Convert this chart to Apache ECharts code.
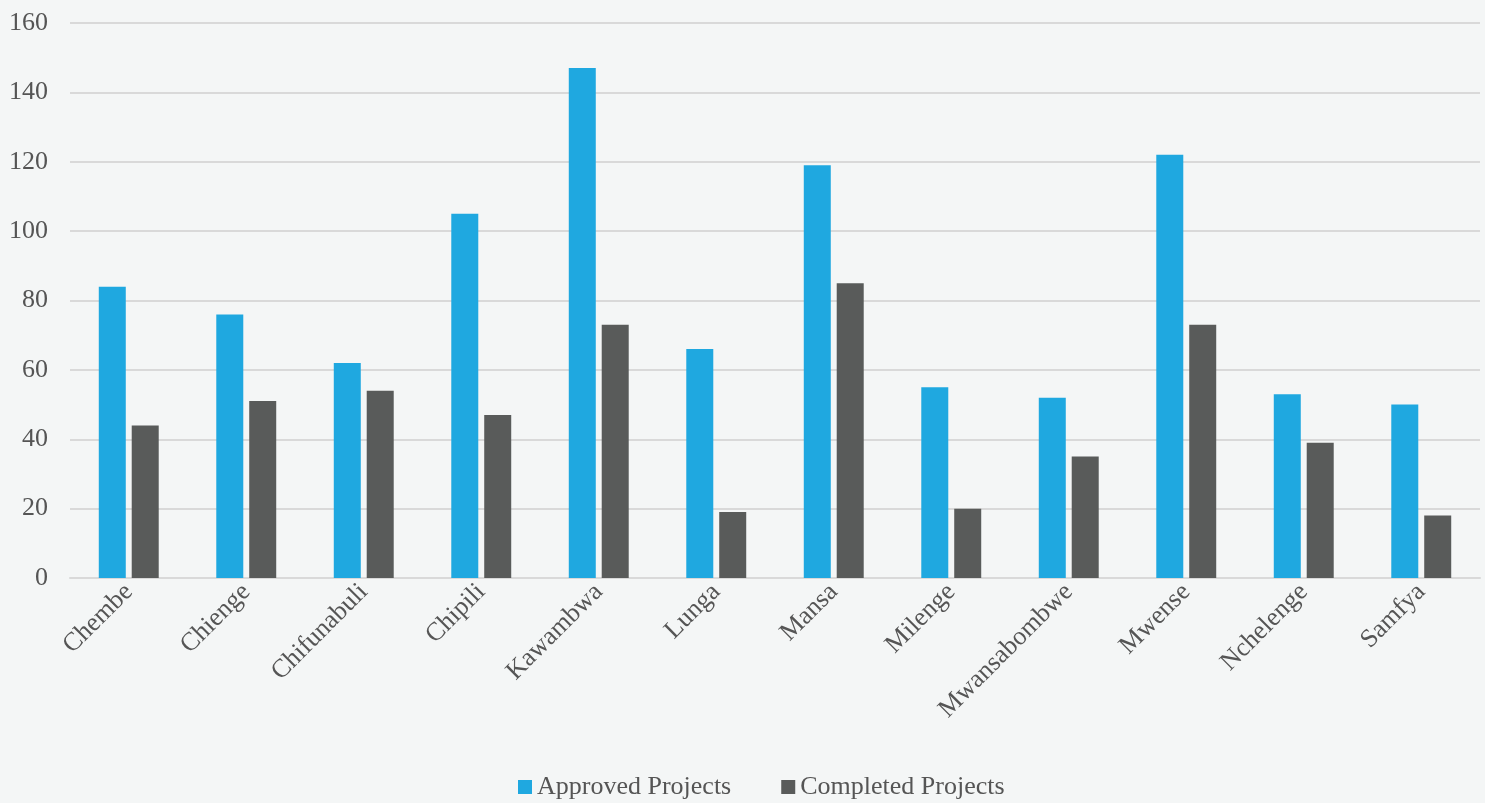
<!DOCTYPE html>
<html><head><meta charset="utf-8">
<script src="https://cdn.jsdelivr.net/npm/echarts@6/dist/echarts.min.js"></script>
<style>html,body{margin:0;padding:0;background:#f4f6f6;}#c{width:1485px;height:803px;}</style>
</head><body><div id="c"></div>
<script>
const categories = ['Chembe','Chienge','Chifunabuli','Chipili','Kawambwa','Lunga','Mansa','Milenge','Mwansabombwe','Mwense','Nchelenge','Samfya'];
const approved = [84,76,62,105,147,66,119,55,52,122,53,50];
const completed = [44,51,54,47,73,19,85,20,35,73,39,18];
const seriesNames = ['Approved Projects','Completed Projects'];
const font = '"Liberation Serif", "DejaVu Serif", serif';
const chart = echarts.init(document.getElementById('c'));
chart.setOption({
  backgroundColor:'#f4f6f6',
  animation:false,
  grid:{left:70,right:5,top:23,bottom:225},
  legend:{bottom:-2,left:513,itemWidth:14,itemHeight:14,itemGap:50,icon:'rect',
    textStyle:{fontFamily:font,fontSize:26,color:'#555555'}},
  xAxis:{type:'category',data:categories,
    axisLine:{lineStyle:{color:'#d9d9d9',width:2}},axisTick:{show:false},
    axisLabel:{rotate:45,interval:0,fontFamily:font,fontSize:26,color:'#555555',margin:10}},
  yAxis:{type:'value',min:0,max:160,interval:20,
    axisLine:{show:false},axisTick:{show:false},
    splitLine:{lineStyle:{color:'#d9d9d9',width:2}},
    axisLabel:{fontFamily:font,fontSize:26,color:'#555555',margin:22}},
  series:[
    {name:seriesNames[0],type:'bar',data:approved,barWidth:27,barGap:'22%',itemStyle:{color:'#1fa8e0'}},
    {name:seriesNames[1],type:'bar',data:completed,barWidth:27,barGap:'22%',itemStyle:{color:'#595b5a'}}
  ]
});
</script></body></html>
